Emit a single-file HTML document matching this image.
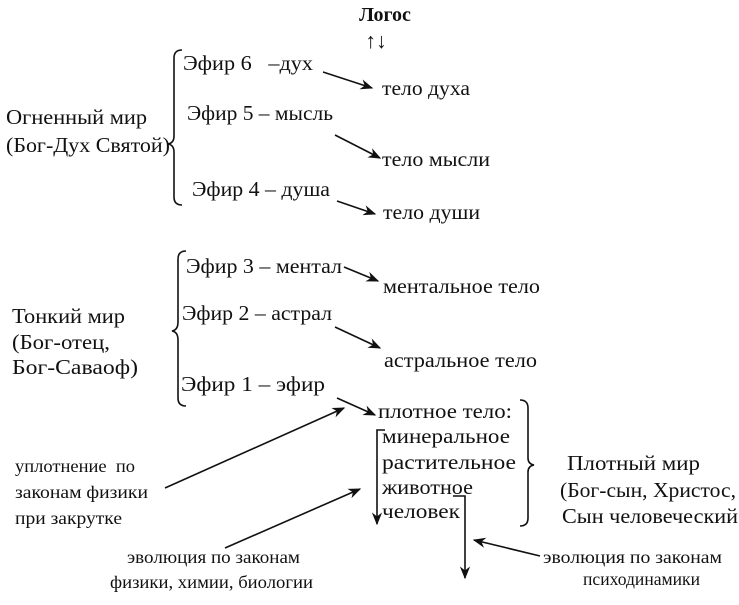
<!DOCTYPE html>
<html><head><meta charset="utf-8"><style>
body{margin:0;background:#fff}
svg text{font-family:"Liberation Serif","DejaVu Serif",serif;fill:#111}
.m{font-size:21.5px}.s{font-size:18px}
</style></head><body>
<svg width="739" height="600" viewBox="0 0 739 600" xmlns="http://www.w3.org/2000/svg">
<defs><marker id="a" viewBox="0 0 10 10" refX="9" refY="5" markerWidth="8" markerHeight="8" orient="auto"><path d="M0,1 L10,5 L0,9 L3,5z" fill="#111"/></marker></defs>
<g stroke="#111" stroke-width="1.6" fill="none">
<path d="M182,50 Q174,50 174,58 L174,136 Q174,143 168,144 Q174,145 174,152 L174,197 Q174,205 182,205"/>
<path d="M186,251 Q178,251 178,259 L178,322 Q178,330 172,331 Q178,332 178,340 L178,398 Q178,406 186,406"/>
<path d="M520,400 Q528,400 528,408 L528,458 Q528,464 534,465 Q528,466 528,472 L528,518 Q528,526 520,526"/>
<path d="M385,430 L377,430 L377,524" marker-end="url(#a)"/>
<path d="M453,496 L465,496 L465,578" marker-end="url(#a)"/>
<path d="M323,72 L372,88" marker-end="url(#a)"/>
<path d="M335,135 L380,158" marker-end="url(#a)"/>
<path d="M337,201 L375,214" marker-end="url(#a)"/>
<path d="M344,267 L378,281" marker-end="url(#a)"/>
<path d="M335,327 L380,348" marker-end="url(#a)"/>
<path d="M337,398 L375,415" marker-end="url(#a)"/>
<path d="M165,488 L344,408" marker-end="url(#a)"/>
<path d="M225,548 L360,489" marker-end="url(#a)"/>
<path d="M540,556 L474,540" marker-end="url(#a)"/>
</g>
<text x="385" y="21" font-size="20" font-weight="bold" text-anchor="middle">Логос</text>
<text x="376" y="48" class="m" text-anchor="middle">↑↓</text>
<text x="6" y="124" class="m" textLength="141" lengthAdjust="spacingAndGlyphs">Огненный мир</text>
<text x="6" y="152" class="m" textLength="164" lengthAdjust="spacingAndGlyphs">(Бог-Дух Святой)</text>
<text x="183" y="70" class="m" textLength="130" lengthAdjust="spacingAndGlyphs">Эфир 6 &#160;&#160;–дух</text>
<text x="187" y="120" class="m" textLength="146" lengthAdjust="spacingAndGlyphs">Эфир 5 – мысль</text>
<text x="192" y="196" class="m" textLength="138" lengthAdjust="spacingAndGlyphs">Эфир 4 – душа</text>
<text x="382" y="95" class="m" textLength="88" lengthAdjust="spacingAndGlyphs">тело духа</text>
<text x="382" y="166" class="m" textLength="108" lengthAdjust="spacingAndGlyphs">тело мысли</text>
<text x="383" y="219" class="m" textLength="97" lengthAdjust="spacingAndGlyphs">тело души</text>
<text x="12" y="323" class="m" textLength="113" lengthAdjust="spacingAndGlyphs">Тонкий мир</text>
<text x="12" y="349" class="m" textLength="98" lengthAdjust="spacingAndGlyphs">(Бог-отец,</text>
<text x="12" y="374" class="m" textLength="126" lengthAdjust="spacingAndGlyphs">Бог-Саваоф)</text>
<text x="186" y="273" class="m" textLength="156" lengthAdjust="spacingAndGlyphs">Эфир 3 – ментал</text>
<text x="182" y="320" class="m" textLength="150" lengthAdjust="spacingAndGlyphs">Эфир 2 – астрал</text>
<text x="181" y="391" class="m" textLength="144" lengthAdjust="spacingAndGlyphs">Эфир 1 – эфир</text>
<text x="383" y="293" class="m" textLength="157" lengthAdjust="spacingAndGlyphs">ментальное тело</text>
<text x="384" y="367" class="m" textLength="153" lengthAdjust="spacingAndGlyphs">астральное тело</text>
<text x="378" y="418" class="m" textLength="134" lengthAdjust="spacingAndGlyphs">плотное тело:</text>
<text x="382" y="443" class="m" textLength="128" lengthAdjust="spacingAndGlyphs">минеральное</text>
<text x="382" y="469" class="m" textLength="134" lengthAdjust="spacingAndGlyphs">растительное</text>
<text x="382" y="494" class="m" textLength="91" lengthAdjust="spacingAndGlyphs">животное</text>
<text x="382" y="518" class="m" textLength="78" lengthAdjust="spacingAndGlyphs">человек</text>
<text x="567" y="470" class="m" textLength="133" lengthAdjust="spacingAndGlyphs">Плотный мир</text>
<text x="560" y="497" class="m" textLength="176" lengthAdjust="spacingAndGlyphs">(Бог-сын, Христос,</text>
<text x="562" y="523" class="m" textLength="176" lengthAdjust="spacingAndGlyphs">Сын человеческий</text>
<text x="15" y="472" class="s" textLength="120" lengthAdjust="spacingAndGlyphs">уплотнение &#160;по</text>
<text x="15" y="498" class="s" textLength="133" lengthAdjust="spacingAndGlyphs">законам физики</text>
<text x="15" y="524" class="s" textLength="107" lengthAdjust="spacingAndGlyphs">при закрутке</text>
<text x="127" y="563" class="s" textLength="173" lengthAdjust="spacingAndGlyphs">эволюция по законам</text>
<text x="110" y="588" class="s" textLength="203" lengthAdjust="spacingAndGlyphs">физики, химии, биологии</text>
<text x="543" y="563" class="s" textLength="179" lengthAdjust="spacingAndGlyphs">эволюция по законам</text>
<text x="583" y="585" class="s" textLength="117" lengthAdjust="spacingAndGlyphs">психодинамики</text>
</svg>
</body></html>
